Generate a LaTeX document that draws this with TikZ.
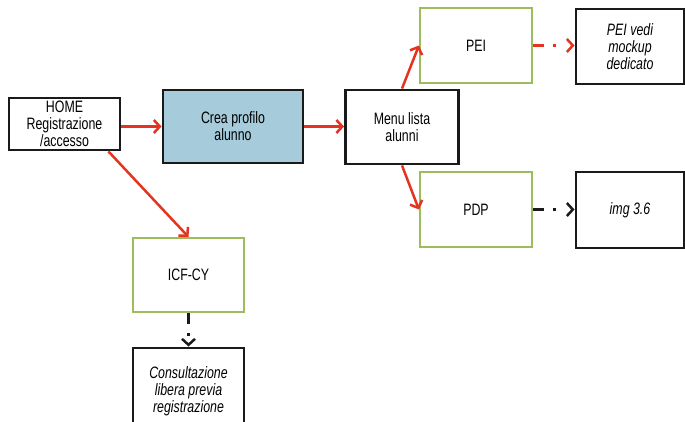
\documentclass[tikz,border=0pt]{standalone}
\usepackage{fontspec}
\setmainfont[FakeStretch=0.75]{Liberation Sans}
\usetikzlibrary{arrows.meta}
\definecolor{ared}{HTML}{E4331E}
\definecolor{agreen}{HTML}{9DBD5C}
\definecolor{ablue}{HTML}{A6CCDC}
\definecolor{ablack}{HTML}{1A1A1A}
\tikzset{
  blackbox/.style={draw=ablack, line width=2.9pt, fill=white, inner sep=0pt, align=center, font=\fontsize{16.5}{17}\selectfont},
  greenbox/.style={draw=agreen, line width=2.2pt, fill=white, inner sep=0pt, align=center, font=\fontsize{16.5}{17}\selectfont},
  itbox/.style={blackbox, font=\fontsize{16.5}{17}\selectfont\itshape},
  redarrow/.style={draw=ared, line width=2.5pt, -{Straight Barb[length=6pt,width=13pt]}},
  dasharrow/.style={line width=2.5pt, dash pattern=on 11pt off 9pt on 2.5pt off 30pt, -{Straight Barb[length=6pt,width=13pt]}},
}
\begin{document}
\begin{tikzpicture}[x=1pt,y=-1pt]
\useasboundingbox (0,0) rectangle (685,421);
\node[blackbox, minimum width=111pt, minimum height=52pt] (home) at (64.5,124) {HOME\\Registrazione\\/accesso};
\node[blackbox, fill=ablue, minimum width=140pt, minimum height=73pt] (crea) at (233,126.5) {Crea profilo\\alunno};
\node[blackbox, minimum width=113pt, minimum height=74pt] (menu) at (402,127) {Menu lista\\alunni};
\node[greenbox, minimum width=112pt, minimum height=75pt] (pei) at (476,45.5) {PEI};
\node[greenbox, minimum width=112pt, minimum height=75pt] (pdp) at (476,209.5) {PDP};
\node[itbox, minimum width=108pt, minimum height=75pt] (peivedi) at (630,46.5) {PEI vedi\\mockup\\dedicato};
\node[itbox, minimum width=108pt, minimum height=76pt] (img) at (630,210) {img 3.6};
\node[greenbox, minimum width=111pt, minimum height=74pt] (icf) at (188.5,275) {ICF-CY};
\node[itbox, minimum width=111pt, minimum height=86pt] (cons) at (188.5,391) {Consultazione\\libera previa\\registrazione};
\draw[redarrow] (home.east |- crea.west) -- (crea.west);
\draw[redarrow] (crea.east) -- (menu.west |- crea.east);
\draw[redarrow] (menu.north) -- (pei.west);
\draw[redarrow] (menu.south) -- (pdp.west);
\draw[redarrow] ([xshift=-13pt]home.south east) -- (icf.north);
\draw[dasharrow, draw=ared] (pei.east) -- (peivedi.west |- pei.east);
\draw[dasharrow, draw=ablack] (pdp.east) -- (img.west |- pdp.east);
\draw[dasharrow, draw=ablack] (icf.south) -- (cons.north);
\end{tikzpicture}
\end{document}
